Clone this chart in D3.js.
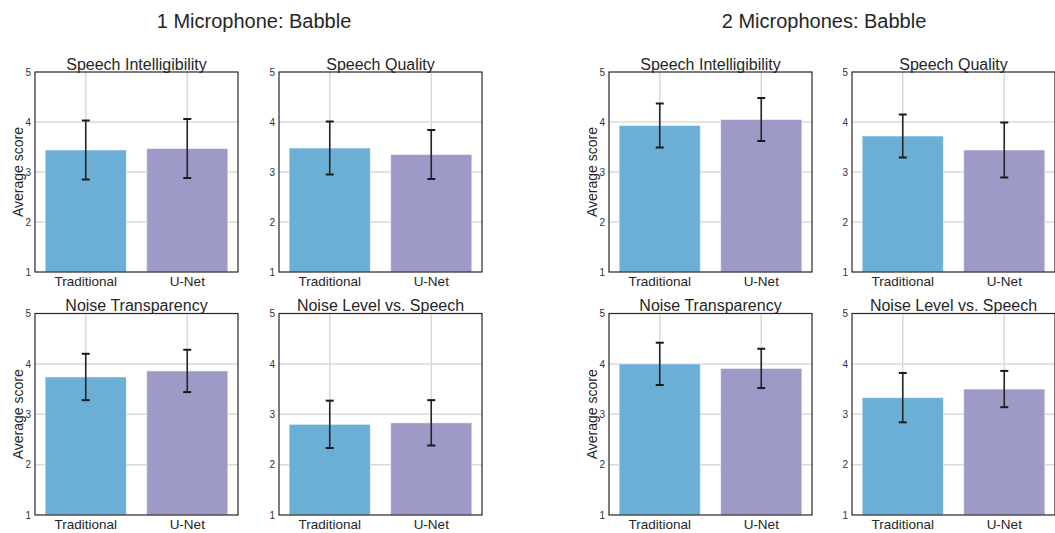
<!DOCTYPE html>
<html>
<head>
<meta charset="utf-8">
<script src="https://cdn.jsdelivr.net/npm/d3@7/dist/d3.min.js"></script>
<style>
  html, body { margin: 0; padding: 0; background: #fff; }
  svg { display: block; font-family: "Liberation Sans", Arial, sans-serif; }
</style>
</head>
<body>
<svg id="chart" width="1055" height="533"></svg>
<script>
// Listening-test scores (mean and error) per condition and metric
const categories = ["Traditional", "U-Net"];
const metrics = ["Speech Intelligibility", "Speech Quality", "Noise Transparency", "Noise Level vs. Speech"];
const groupTitles = ["1 Microphone: Babble", "2 Microphones: Babble"];
const yTicks = [1, 2, 3, 4, 5];

// One microphone, babble noise: [Traditional, U-Net] per metric
const oneMicMeans = [[3.44, 3.47], [3.48, 3.35], [3.74, 3.86], [2.80, 2.83]];
const oneMicErrors = [[0.59, 0.59], [0.53, 0.49], [0.46, 0.42], [0.47, 0.45]];

// Two microphones, babble noise
const twoMicMeans = [[3.93, 4.05], [3.72, 3.44], [4.00, 3.91], [3.33, 3.50]];
const twoMicErrors = [[0.44, 0.43], [0.43, 0.55], [0.42, 0.39], [0.49, 0.36]];

const barColors = ["#6baed6", "#9e9ac8"];

const svg = d3.select("#chart");

const groups = [
  { title: groupTitles[0], means: oneMicMeans, errors: oneMicErrors, titleX: 254, cols: [[35, 238], [279, 482]] },
  { title: groupTitles[1], means: twoMicMeans, errors: twoMicErrors, titleX: 824, cols: [[609, 812], [852, 1055]] }
];
const rows = [[72, 272], [313.5, 515]];

groups.forEach(g => {
  svg.append("text")
    .attr("x", g.titleX).attr("y", 28)
    .attr("text-anchor", "middle")
    .attr("font-size", 20)
    .attr("fill", "#262626")
    .text(g.title);

  metrics.forEach((metric, mi) => {
    const r = Math.floor(mi / 2), c = mi % 2;
    const [x0, x1] = g.cols[c];
    const [yTop, yBot] = rows[r];

    const x = d3.scaleBand().domain(categories).range([x0, x1])
      .paddingInner(0.2).paddingOuter(0.1);
    const y = d3.scaleLinear().domain([1, 5]).range([yBot, yTop]);

    const panel = svg.append("g");

    // grid
    panel.append("g").selectAll("line.h")
      .data(yTicks.slice(1, -1)).join("line")
      .attr("x1", x0).attr("x2", x1)
      .attr("y1", d => y(d)).attr("y2", d => y(d))
      .attr("stroke", "#dadada").attr("stroke-width", 1.5);
    panel.append("g").selectAll("line.v")
      .data(categories).join("line")
      .attr("x1", d => x(d) + x.bandwidth() / 2).attr("x2", d => x(d) + x.bandwidth() / 2)
      .attr("y1", yTop).attr("y2", yBot)
      .attr("stroke", "#dadada").attr("stroke-width", 1.5);

    const means = g.means[mi], errs = g.errors[mi];
    const data = categories.map((cat, i) => ({ cat, mean: means[i], err: errs[i], color: barColors[i] }));

    // bars
    panel.append("g").selectAll("rect")
      .data(data).join("rect")
      .attr("x", d => x(d.cat)).attr("width", x.bandwidth())
      .attr("y", d => y(d.mean)).attr("height", d => y(1) - y(d.mean))
      .attr("fill", d => d.color)
      .attr("stroke", "rgba(255,255,255,0.55)").attr("stroke-width", 1);

    // error bars
    const eb = panel.append("g").selectAll("g").data(data).join("g");
    const cx = d => x(d.cat) + x.bandwidth() / 2;
    eb.append("line")
      .attr("x1", cx).attr("x2", cx)
      .attr("y1", d => y(d.mean + d.err)).attr("y2", d => y(d.mean - d.err))
      .attr("stroke", "#262626").attr("stroke-width", 1.6);
    [1, -1].forEach(s => {
      eb.append("line")
        .attr("x1", d => cx(d) - 4).attr("x2", d => cx(d) + 4)
        .attr("y1", d => y(d.mean + s * d.err)).attr("y2", d => y(d.mean + s * d.err))
        .attr("stroke", "#1a1a1a").attr("stroke-width", 2);
    });

    // spines
    panel.append("rect")
      .attr("x", x0).attr("y", yTop)
      .attr("width", x1 - x0).attr("height", yBot - yTop)
      .attr("fill", "none").attr("stroke", "#262626").attr("stroke-width", 1.2);

    // axes
    const ya = panel.append("g").attr("transform", `translate(${x0},0)`)
      .call(d3.axisLeft(y).tickValues(yTicks).tickFormat(d3.format("d")).tickSize(0).tickPadding(4));
    ya.select(".domain").remove();
    ya.selectAll("text").attr("font-size", 10).attr("fill", "#333")
      .attr("font-family", "'Liberation Sans', Arial, sans-serif");

    const xa = panel.append("g").attr("transform", `translate(0,${yBot})`)
      .call(d3.axisBottom(x).tickSize(0).tickPadding(4.5));
    xa.select(".domain").remove();
    xa.selectAll("text").attr("font-size", 13.5).attr("fill", "#262626")
      .attr("font-family", "'Liberation Sans', Arial, sans-serif");

    // panel title
    panel.append("text")
      .attr("x", (x0 + x1) / 2).attr("y", yTop - 2.5)
      .attr("text-anchor", "middle")
      .attr("font-size", 16).attr("fill", "#262626")
      .text(metric);

    if (c === 0) {
      panel.append("text")
        .attr("transform", `translate(${x0 - 12.5},${(yTop + yBot) / 2}) rotate(-90)`)
        .attr("text-anchor", "middle")
        .attr("font-size", 14).attr("fill", "#262626")
        .text("Average score");
    }
  });
});
</script>
</body>
</html>
